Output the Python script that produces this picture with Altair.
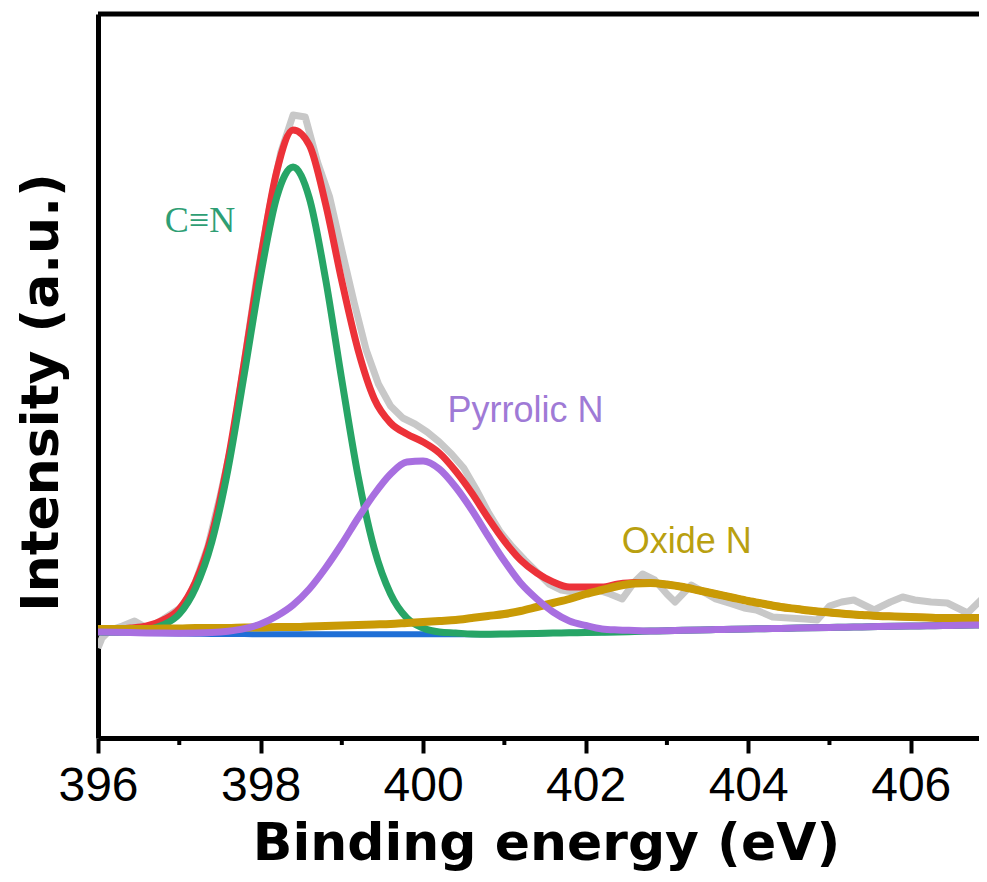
import altair as alt
import pandas as pd

# ---------------- data ----------------
# fitted-curve energy grid (eV)
fit_e = [round(396.0 + 0.2 * i, 1) for i in range(56)]

background = [0, -0.3, -0.6, -0.9, -1.2, -1.5, -1.7, -1.9, -2.0, -2.1,
              -2.2, -2.3, -2.3, -2.3, -2.3, -2.3, -2.3, -2.3, -2.3, -2.3,
              -2.3, -2.3, -2.3, -2.3, -2.2, -2.0, -1.7, -1.4, -1.1, -0.8,
              -0.5, -0.2, 0.1, 0.5, 0.9, 1.3, 1.7, 2.1, 2.4, 2.7,
              3.0, 3.3, 3.6, 3.9, 4.2, 4.5, 4.8, 5.1, 5.4, 5.7,
              6.0, 6.2, 6.5, 6.7, 7.0, 7.2]

c_n = [0, -0.3, 0.4, 2, 7, 18, 44, 90, 163, 258,
       356, 435, 465, 434, 353, 252, 156, 83, 38, 14,
       4, 0, -1, -2, -2.2, -2.0, -1.7, -1.4, -1.1, -0.8,
       -0.5, -0.2, 0.1, 0.5, 0.9, 1.3, 1.7, 2.1, 2.4, 2.7,
       3.0, 3.3, 3.6, 3.9, 4.2, 4.5, 4.8, 5.1, 5.4, 5.7,
       6.0, 6.2, 6.5, 6.7, 7.0, 7.2]

pyrrolic = [0, -0.3, -0.6, -0.9, -1.1, -1.2, -1.1, -0.6, 0.8, 3.4,
            8, 16, 27, 43, 64, 88, 114, 138, 158, 170,
            171, 163, 145, 122, 96, 71, 49, 33, 20, 11,
            6.5, 3, 2, 1.5, 1.0, 1.3, 1.7, 2.1, 2.4, 2.7,
            3.0, 3.3, 3.6, 3.9, 4.2, 4.5, 4.8, 5.1, 5.4, 5.7,
            6.0, 6.2, 6.5, 6.7, 7.0, 7.2]

oxide = [3, 3, 3, 3, 3.5, 3.5, 4, 4, 4, 4.5,
         4.5, 5, 5, 5.5, 6, 6.5, 7, 7.5, 8, 9,
         10, 11, 12, 14, 16, 18, 21, 25, 29, 33,
         38, 42, 46, 48.5, 49, 47.5, 45, 41.5, 38, 34.5,
         31, 28, 25, 23, 21, 19.5, 18, 17, 16, 15.5,
         15, 14.5, 14, 14, 14, 13.5]

envelope = [3, 3, 4, 6, 12, 23, 50, 97, 172, 270,
            373, 461, 502, 487, 428, 351, 282, 233, 209, 198,
            190, 179, 161, 139, 114, 91, 72, 59, 50, 45,
            45, 45, 48, 49.5, 49, 47.5, 45, 41.5, 38, 34.5,
            31, 28, 25, 23, 21, 19.5, 18, 17, 16, 15.5,
            15, 14.5, 14, 14, 14, 13.5]

# raw spectrum (eV, intensity)
raw_e = [396.00, 396.05, 396.15, 396.30, 396.45, 396.60, 396.75, 396.90, 397.05, 397.20,
         397.35, 397.50, 397.65, 397.80, 397.95, 398.10, 398.25, 398.40, 398.55, 398.70,
         398.85, 399.00, 399.15, 399.30, 399.45, 399.60, 399.75, 399.90, 400.05, 400.20,
         400.35, 400.50, 400.65, 400.80, 400.95, 401.10, 401.25, 401.40, 401.55, 401.70,
         401.85, 402.00, 402.15, 402.30, 402.45, 402.60, 402.70, 402.85, 403.00, 403.10,
         403.30, 403.45, 403.60, 403.80, 403.95, 404.10, 404.30, 404.50, 404.70, 404.85,
         405.00, 405.15, 405.30, 405.55, 405.75, 405.90, 406.05, 406.25, 406.45, 406.70,
         406.90, 407.00]
raw_i = [-16, -6, 2, 6, 11, 4, 10, 18, 26, 50,
         85, 135, 190, 270, 352, 420, 480, 517, 515, 470,
         435, 382, 330, 282, 248, 226, 214, 208, 200, 190,
         178, 164, 143, 120, 100, 85, 72, 60, 48, 42,
         40, 44, 42, 38, 33, 50, 58, 52, 38, 30,
         47, 40, 33, 28, 24, 22, 15, 14, 13, 12,
         26, 30, 32, 22, 30, 35, 32, 30, 29, 19,
         35, 38]

major_ticks = [396, 398, 400, 402, 404, 406]
minor_ticks = [397, 399, 401, 403, 405]

label_text = ["C\u2261N", "Pyrrolic N", "Oxide N"]
label_e = [397.255, 401.26, 403.245]
label_i = [400, 210, 79]
label_color = ["#2E9E74", "#9F7AD6", "#B9A010"]
label_font = ["Liberation Serif", "Liberation Sans", "Liberation Sans"]

# ---------------- chart ----------------
W, H = 881, 724
X_DOM = [396, 406.84]
Y_DOM = [-106, 618]

xs = alt.Scale(domain=X_DOM, nice=False, zero=False)
ys = alt.Scale(domain=Y_DOM, nice=False, zero=False)

x_axis = alt.Axis(values=major_ticks, format="d", grid=False,
                  domainColor="black", domainWidth=5,
                  tickColor="black", tickWidth=4, tickSize=15,
                  labelFont="Liberation Sans", labelFontSize=48, labelColor="black",
                  labelBaseline="alphabetic", labelPadding=47, labelFlush=False,
                  labelOverlap=False,
                  title="Binding energy (eV)", titleFont="DejaVu Sans",
                  titleFontSize=52, titleFontWeight="bold", titleColor="black",
                  titleBaseline="alphabetic", titleY=121, titleX=448,
                  titleAnchor="middle")
y_axis = alt.Axis(grid=False, ticks=False, labels=False,
                  domainColor="black", domainWidth=5,
                  title="Intensity (a.u.)", titleFont="DejaVu Sans",
                  titleFontSize=52, titleFontWeight="bold", titleColor="black",
                  titleBaseline="alphabetic", titleX=-41, titleY=378,
                  titleAngle=270, titleAlign="center")

X = alt.X("E:Q", scale=xs, axis=x_axis, title="Binding energy (eV)")

raw_df = pd.DataFrame({"E": raw_e, "I": raw_i})
fit_df = pd.DataFrame({"E": fit_e, "bg": background, "cn": c_n, "pyr": pyrrolic,
                       "ox": oxide, "env": envelope})


def Y(col):
    return alt.Y(f"{col}:Q", scale=ys, axis=y_axis, title="Intensity (a.u.)")


def curve(col, color, width):
    return alt.Chart(fit_df).mark_line(color=color, strokeWidth=width,
                                       interpolate="monotone", clip=True,
                                       strokeCap="round", strokeJoin="round").encode(x=X, y=Y(col))


raw = alt.Chart(raw_df).mark_line(color="#C8C8C8", strokeWidth=7, clip=True,
                                  strokeJoin="round").encode(x=X, y=Y("I"))

env = curve("env", "#EC3239", 7)
bg = curve("bg", "#1F6FD6", 6)
cn = curve("cn", "#27A566", 7)
ox = curve("ox", "#C99A06", 8)
pyr = curve("pyr", "#A86FE0", 7)

lab_df = pd.DataFrame({"t": label_text, "E": label_e, "I": label_i})
labels = []
for i in range(len(label_text)):
    labels.append(
        alt.Chart(lab_df.iloc[[i]]).mark_text(
            font=label_font[i], fontSize=36, color=label_color[i],
            align="center", baseline="alphabetic"
        ).encode(x=X, y=Y("I"), text="t:N")
    )

minor = alt.Chart(pd.DataFrame({"E": minor_ticks})).mark_rule(
    color="black", strokeWidth=4
).encode(x=X, y=alt.value(H), y2=alt.value(H + 7))

top_border = alt.Chart(pd.DataFrame({"a": [0]})).mark_rule(
    color="black", strokeWidth=5
).encode(x=alt.value(0), x2=alt.value(W), y=alt.value(0))

chart = alt.layer(raw, env, bg, cn, ox, pyr, *labels, minor, top_border).properties(
    width=W, height=H,
    padding={"left": 90, "top": 6, "right": 0, "bottom": 144},
    autosize=alt.AutoSizeParams(type="none"),
    background="white",
).configure_view(stroke=None)

chart.save("out.html", embed_options={"renderer": "svg", "actions": False})
